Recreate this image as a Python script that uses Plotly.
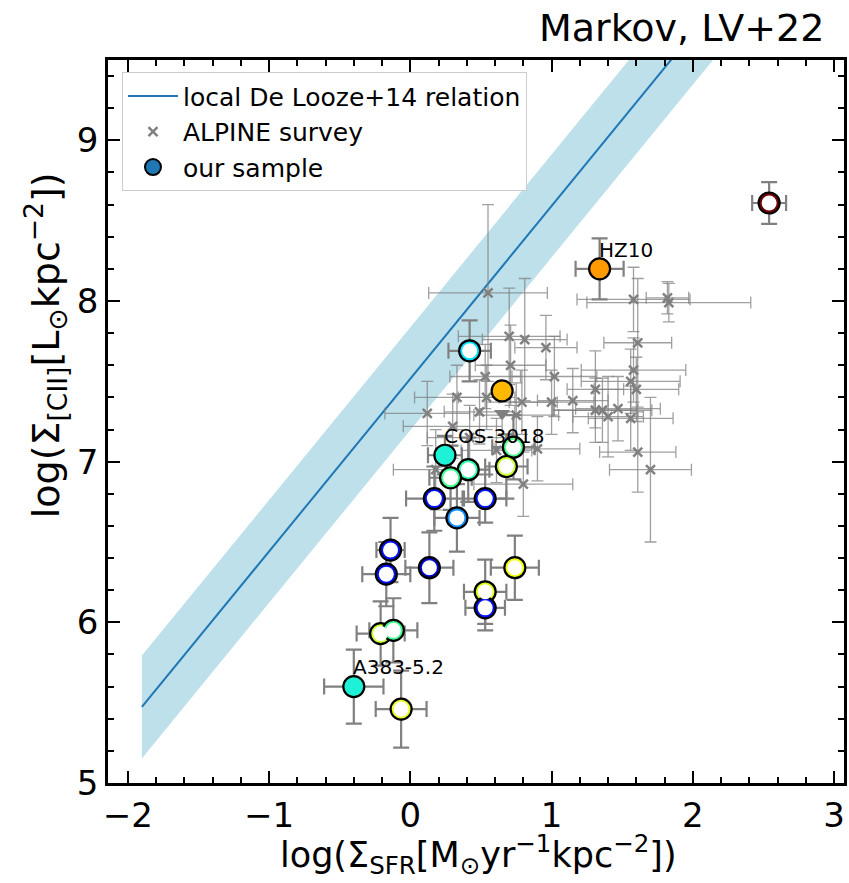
import plotly.graph_objects as go
import numpy as np

# ---------------- data ----------------
# local De Looze+14 relation: log S_CII = (log S_SFR + 6.99) / 0.93, scatter 0.32 dex
relation_x = [-1.9, 2.6]
relation_intercept = 6.99
relation_slope = 0.93
relation_scatter = 0.32

# ALPINE survey points
alpine_x = [0.55, 0.70, 0.81, 0.96, 0.71, 1.02, 0.53, 0.33, 0.49, 0.54, 0.75, 1.00, 0.79,
            1.31, 1.31, 1.36, 1.40, 1.47, 1.56, 1.56, 1.58, 1.61, 1.58, 1.83, 1.82, 1.60,
            1.61, 1.70, 0.90, 0.61, 0.80, 0.18, 0.30, 0.12, 1.15, 0.42]
alpine_y = [8.05, 7.78, 7.76, 7.71, 7.60, 7.53, 7.53, 7.40, 7.31, 7.40, 7.29, 7.37, 7.37,
            7.45, 7.32, 7.32, 7.28, 7.33, 7.27, 7.50, 7.57, 7.74, 8.01, 7.99, 8.02, 7.45,
            7.06, 6.95, 7.08, 7.07, 6.86, 6.95, 7.22, 7.30, 7.38, 7.15]
alpine_xerr = [0.42, 0.36, 0.30, 0.22, 0.25, 0.30, 0.25, 0.30, 0.25, 0.20, 0.30, 0.30, 0.25,
               0.20, 0.30, 0.35, 0.25, 0.30, 0.30, 0.35, 0.37, 0.24, 0.40, 0.58, 0.15, 0.30,
               0.27, 0.29, 0.30, 0.25, 0.35, 0.30, 0.35, 0.30, 0.25, 0.30]
alpine_yerr = [0.55, 0.30, 0.38, 0.20, 0.25, 0.25, 0.20, 0.20, 0.20, 0.20, 0.20, 0.20, 0.20,
               0.24, 0.20, 0.20, 0.25, 0.20, 0.20, 0.20, 0.20, 0.40, 0.20, 0.12, 0.10, 0.20,
               0.25, 0.45, 0.20, 0.20, 0.20, 0.25, 0.20, 0.20, 0.20, 0.20]

# ALPINE upper limit
limit_x = [0.65]
limit_y = [7.30]

# our sample
sample_x = [2.54, 1.34, 0.65, 0.42, 0.245, 0.73, 0.68, 0.41, 0.285, 0.17, 0.53, 0.33,
            -0.14, -0.17, 0.135, 0.74, 0.53, 0.53, -0.21, -0.12, -0.40, -0.065]
sample_y = [8.61, 8.20, 7.44, 7.69, 7.04, 7.09, 6.97, 6.95, 6.90, 6.77, 6.77, 6.65,
            6.45, 6.30, 6.34, 6.34, 6.19, 6.09, 5.93, 5.95, 5.60, 5.46]
sample_xerr = [0.12, 0.17, 0.0, 0.15, 0.12, 0.15, 0.15, 0.15, 0.15, 0.20, 0.15, 0.16,
               0.10, 0.17, 0.17, 0.17, 0.15, 0.14, 0.17, 0.17, 0.21, 0.18]
sample_yerr = [0.13, 0.19, 0.0, 0.19, 0.12, 0.20, 0.20, 0.20, 0.20, 0.20, 0.15, 0.21,
               0.20, 0.20, 0.22, 0.20, 0.20, 0.14, 0.20, 0.20, 0.23, 0.24]
sample_colors = ["#7a0000", "#ff9a00", "#ffb800", "#00e0ff", "#1ef2d6", "#50ff90",
                 "#c8ff30", "#30ffb0", "#40ff90", "#0010ff", "#0018ff", "#1090ff",
                 "#0010ff", "#0010ff", "#0008d0", "#f0ff00", "#e0ff10", "#0010ff",
                 "#c8ff30", "#40ff90", "#1ef2d6", "#e8ff20"]
sample_filled = [False, True, True, False, True, False, False, False, False, False, False,
                 False, False, False, False, False, False, False, False, False, True, False]

label_names = ["HZ10", "COS-3018", "A383-5.2"]
label_index = [1, 4, 20]

x_title = "log(Σ<sub>SFR</sub>[M<sub>⊙</sub>yr<sup>−1</sup>kpc<sup>−2</sup>])"
y_title = "log(Σ<sub>[CII]</sub>[L<sub>⊙</sub>kpc<sup>−2</sup>])"
corner_title = "Markov, LV+22"

# ---------------- figure ----------------
FONT = "DejaVu Sans"
fig = go.Figure()

rx = np.linspace(relation_x[0], relation_x[1], 50)
ry = (rx + relation_intercept) / relation_slope

fig.add_trace(go.Scatter(x=rx, y=ry - relation_scatter, mode="lines",
                         line=dict(width=0), showlegend=False, hoverinfo="skip"))
fig.add_trace(go.Scatter(x=rx, y=ry + relation_scatter, mode="lines",
                         line=dict(width=0), fill="tonexty",
                         fillcolor="rgba(173,216,230,0.8)", showlegend=False,
                         hoverinfo="skip"))
fig.add_trace(go.Scatter(x=rx, y=ry, mode="lines", line=dict(color="#1f77b4", width=2),
                         name="local De Looze+14 relation"))

fig.add_trace(go.Scatter(
    x=alpine_x, y=alpine_y, mode="markers", name="ALPINE survey",
    marker=dict(symbol="x-thin", size=9, line=dict(color="gray", width=2.5), color="gray"),
    error_x=dict(type="data", array=alpine_xerr, color="rgba(128,128,128,0.75)",
                 thickness=1.3, width=6),
    error_y=dict(type="data", array=alpine_yerr, color="rgba(128,128,128,0.75)",
                 thickness=1.3, width=6),
))
fig.add_trace(go.Scatter(
    x=limit_x, y=limit_y, mode="markers", showlegend=False,
    marker=dict(symbol="triangle-down", size=14, color="gray"),
))

# sample error bars
fig.add_trace(go.Scatter(
    x=sample_x, y=sample_y, mode="markers", showlegend=False,
    marker=dict(size=1, color="rgba(0,0,0,0)"),
    error_x=dict(type="data", array=sample_xerr, color="gray", thickness=2.2, width=8),
    error_y=dict(type="data", array=sample_yerr, color="gray", thickness=2.2, width=8),
))
# sample outer markers
fig.add_trace(go.Scatter(
    x=sample_x, y=sample_y, mode="markers", showlegend=False,
    marker=dict(size=21, color=sample_colors, line=dict(color="black", width=2.2)),
))
# white centres for ring markers
ring_x = [x for x, f in zip(sample_x, sample_filled) if not f]
ring_y = [y for y, f in zip(sample_y, sample_filled) if not f]
fig.add_trace(go.Scatter(
    x=ring_x, y=ring_y, mode="markers", showlegend=False,
    marker=dict(size=15, color="white", line=dict(width=0)),
))
# legend entry for our sample
fig.add_trace(go.Scatter(
    x=[None], y=[None], mode="markers", name="our sample",
    marker=dict(size=19, color="#1f77b4", line=dict(color="black", width=2)),
))

for name, i in zip(label_names, label_index):
    fig.add_annotation(x=sample_x[i], y=sample_y[i] + 0.12, text=name, showarrow=False,
                       xanchor="left", yanchor="middle", xshift=-3,
                       font=dict(family=FONT, size=20, color="black"))

fig.add_annotation(xref="paper", yref="paper", x=0.976, y=1.044, text=corner_title,
                   showarrow=False, xanchor="right", yanchor="middle",
                   font=dict(family=FONT, size=38, color="black"))
fig.add_annotation(xref="paper", yref="paper", x=0.503, y=-0.099, text=x_title,
                   showarrow=False, xanchor="center", yanchor="middle",
                   font=dict(family=FONT, size=35, color="black"))
fig.add_annotation(xref="paper", yref="paper", x=-0.085, y=0.606, text=y_title,
                   showarrow=False, xanchor="center", yanchor="middle", textangle=-90,
                   font=dict(family=FONT, size=38, color="black"))

axis_common = dict(
    showline=True, linecolor="black", linewidth=2.5, mirror="allticks",
    ticks="inside", ticklen=12, tickwidth=2, tickcolor="black",
    showgrid=False, zeroline=False,
    tickfont=dict(family=FONT, size=34, color="black"),
    minor=dict(ticks="inside", ticklen=6, tickwidth=1.5, tickcolor="black", dtick=0.2,
               showgrid=False),
)

fig.update_xaxes(range=[-2.14, 3.07], tick0=0, dtick=1, **axis_common)
fig.update_yaxes(range=[5, 9.5], tick0=5, dtick=1, **axis_common)

fig.update_layout(
    width=849, height=883,
    margin=dict(l=108, r=2, t=60, b=100),
    plot_bgcolor="white", paper_bgcolor="white",
    font=dict(family=FONT, color="black"),
    legend=dict(x=0.019, y=0.983, xanchor="left", yanchor="top", traceorder="normal",
                bgcolor="rgba(255,255,255,0.85)", bordercolor="#cccccc", borderwidth=1,
                font=dict(family=FONT, size=25, color="black"), itemwidth=50,
                tracegroupgap=2),
)

fig.write_html("out.html")
